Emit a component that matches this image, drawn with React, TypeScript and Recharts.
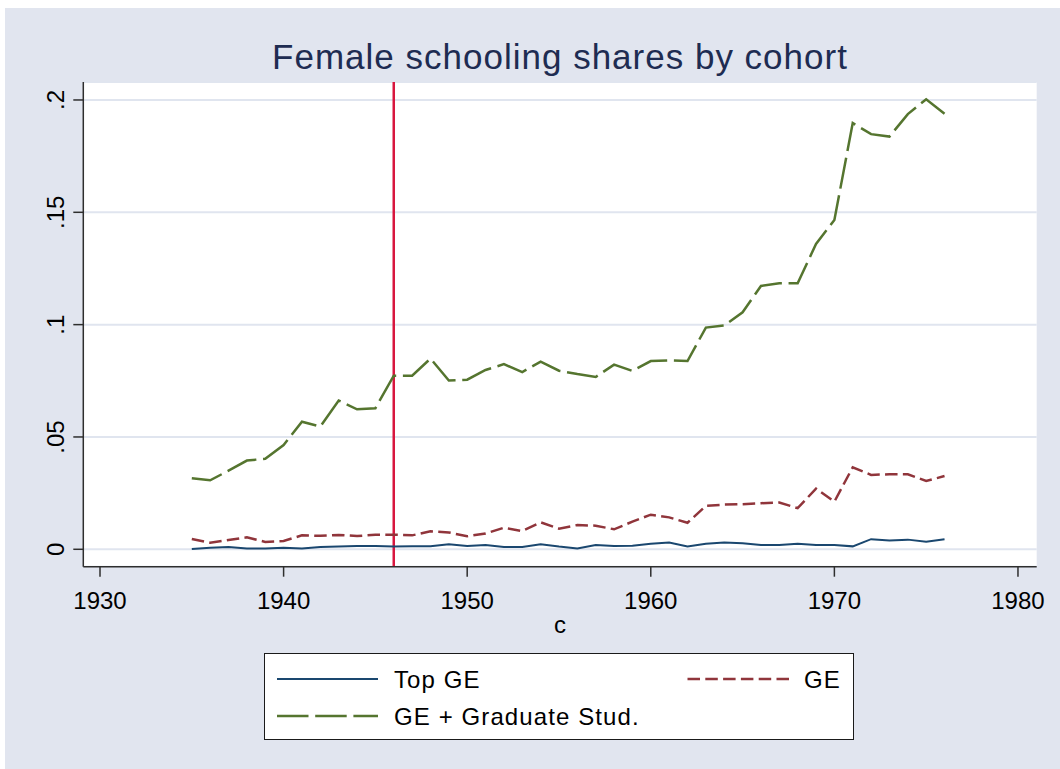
import React from 'react';
import { LineChart, Line, XAxis, YAxis, CartesianGrid, ReferenceLine, Legend, Label } from 'recharts';

const years = [1935, 1936, 1937, 1938, 1939, 1940, 1941, 1942, 1943, 1944,
  1945, 1946, 1947, 1948, 1949, 1950, 1951, 1952, 1953, 1954,
  1955, 1956, 1957, 1958, 1959, 1960, 1961, 1962, 1963, 1964,
  1965, 1966, 1967, 1968, 1969, 1970, 1971, 1972, 1973, 1974,
  1975, 1976];

const topGE = [0.0001, 0.0007, 0.0010, 0.0004, 0.0004, 0.0007, 0.0004, 0.0010, 0.0012, 0.0015,
  0.0015, 0.0012, 0.0013, 0.0013, 0.0022, 0.0015, 0.0019, 0.0010, 0.0010, 0.0022,
  0.0012, 0.0004, 0.0019, 0.0015, 0.0016, 0.0025, 0.0030, 0.0012, 0.0025, 0.0030,
  0.0027, 0.0019, 0.0019, 0.0025, 0.0019, 0.0019, 0.0013, 0.0045, 0.0039, 0.0043,
  0.0034, 0.0045];

const ge = [0.0046, 0.0029, 0.0041, 0.0053, 0.0033, 0.0037, 0.0062, 0.0060, 0.0064, 0.0059,
  0.0065, 0.0065, 0.0062, 0.0080, 0.0075, 0.0058, 0.0070, 0.0096, 0.0081, 0.0120,
  0.0092, 0.0108, 0.0105, 0.0089, 0.0123, 0.0154, 0.0142, 0.0118, 0.0193, 0.0199,
  0.0201, 0.0205, 0.0208, 0.0183, 0.0270, 0.0212, 0.0365, 0.0331, 0.0334, 0.0334,
  0.0304, 0.0326];

const geGrad = [0.0316, 0.0307, 0.0350, 0.0395, 0.0403, 0.0464, 0.0568, 0.0546, 0.0662, 0.0623,
  0.0628, 0.0773, 0.0773, 0.0849, 0.0751, 0.0755, 0.0798, 0.0824, 0.0789, 0.0835,
  0.0795, 0.0780, 0.0767, 0.0822, 0.0794, 0.0838, 0.0841, 0.0838, 0.0987, 0.0996,
  0.1055, 0.1172, 0.1184, 0.1184, 0.1359, 0.1466, 0.1897, 0.1848, 0.1837, 0.1937,
  0.2003, 0.1939];

const seriesKeys = ['topGE', 'ge', 'geGrad'];
const seriesLabels = ['Top GE', 'GE', 'GE + Graduate Stud.'];
const seriesColors = ['#1A476F', '#90353B', '#55752F'];
const seriesDash = ['', '12.5 5.3', '31.5 6.7'];
const seriesWidth = [2, 2.5, 2.5];

const xTicks = [1930, 1940, 1950, 1960, 1970, 1980];
const yTicks = [0, 0.05, 0.1, 0.15, 0.2];
const yTickLabels = ['0', '.05', '.1', '.15', '.2'];
const cutoffYear = 1946;

const titleText = 'Female schooling shares by cohort';
const xTitle = 'c';

const data = years.map((c, i) => ({ c, topGE: topGE[i], ge: ge[i], geGrad: geGrad[i] }));

const FONT = '"Liberation Sans", Arial, Helvetica, sans-serif';
const AXIS_COLOR = '#2E2E2E';

const YTick = (props: any) => {
  const { x, y, payload } = props;
  const idx = yTicks.indexOf(payload.value);
  const label = idx >= 0 ? yTickLabels[idx] : String(payload.value);
  return (
    <text x={x} y={y} transform={`rotate(-90, ${x}, ${y})`} textAnchor="middle" fontSize={24} fill="#000" fontFamily={FONT}>
      {label}
    </text>
  );
};

// legend cell layout: [keyX1, keyX2, textX, rowY]
const legendCells = [
  [12, 113, 129, 0],
  [422.5, 524, 539, 0],
  [12, 113, 129, 1],
];

const LegendBox = (props: any) => {
  const { payload } = props;
  const rows = [25, 62];
  return (
    <div style={{ width: 590, height: 87, background: '#fff', border: '1.3px solid #1a1a1a', boxSizing: 'border-box' }}>
      <svg width={588} height={85} style={{ display: 'block' }}>
        {(payload || []).map((item: any, i: number) => {
          const k = seriesKeys.indexOf(item.dataKey);
          const cell = legendCells[k];
          const ry = rows[cell[3]];
          return (
            <g key={i}>
              <line x1={cell[0]} x2={cell[1]} y1={ry} y2={ry} stroke={seriesColors[k]} strokeWidth={seriesWidth[k]}
                strokeDasharray={seriesDash[k] || undefined} />
              <text x={cell[2]} y={ry + 9} fontSize={24} letterSpacing={1.1} fill="#000" fontFamily={FONT}>
                {seriesLabels[k]}
              </text>
            </g>
          );
        })}
      </svg>
    </div>
  );
};

export default function App() {
  return (
    <div style={{ position: 'absolute', left: 0, top: 0, width: 1060, height: 769, background: '#fff', fontFamily: FONT }}>
      <div style={{ position: 'absolute', left: 5, top: 8, width: 1055, height: 761, background: '#E1E5EF' }} />
      <div style={{ position: 'absolute', left: 160, top: 39, width: 800, textAlign: 'center', fontSize: 35, lineHeight: '36px', letterSpacing: 1, color: '#1E2C52', fontFamily: FONT }}>
        {titleText}
      </div>
      <div style={{ position: 'absolute', left: 0, top: 0 }}>
        <LineChart width={1060} height={769} data={data} margin={{ top: 82, right: 23.3, bottom: 132.3, left: 23.3 }}>
          <CartesianGrid vertical={false} horizontal stroke="#E0E5EF" strokeWidth={2} fill="#ffffff" />
          <XAxis dataKey="c" type="number" domain={[1929.09, 1981.02]} ticks={xTicks} allowDataOverflow
            height={70} tickSize={10} tickMargin={15} stroke={AXIS_COLOR} strokeWidth={1.5}
            tick={{ fontSize: 24, fill: '#000', fontFamily: FONT }} tickLine={{ stroke: AXIS_COLOR, strokeWidth: 1.5 }}>
            <Label value={xTitle} position="insideBottom" offset={4} style={{ fontSize: 24, fill: '#000', fontFamily: FONT }} />
          </XAxis>
          <YAxis type="number" domain={[-0.00775, 0.208]} ticks={yTicks} allowDataOverflow width={60}
            tickSize={10} tickMargin={9} stroke={AXIS_COLOR} strokeWidth={1.5} tick={<YTick />}
            tickLine={{ stroke: AXIS_COLOR, strokeWidth: 1.5 }} />
          <ReferenceLine x={cutoffYear} stroke="#D8173F" strokeWidth={2.5} />
          {seriesKeys.map((k, i) => (
            <Line key={k} dataKey={k} name={seriesLabels[i]} type="linear" stroke={seriesColors[i]} strokeWidth={seriesWidth[i]}
              strokeDasharray={seriesDash[i] || undefined} dot={false} activeDot={false} isAnimationActive={false} />
          ))}
          <Legend layout="vertical" verticalAlign="middle" align="center" content={<LegendBox />}
            wrapperStyle={{ position: 'absolute', left: 264, top: 653, width: 590, height: 87 }} />
        </LineChart>
      </div>
    </div>
  );
}
